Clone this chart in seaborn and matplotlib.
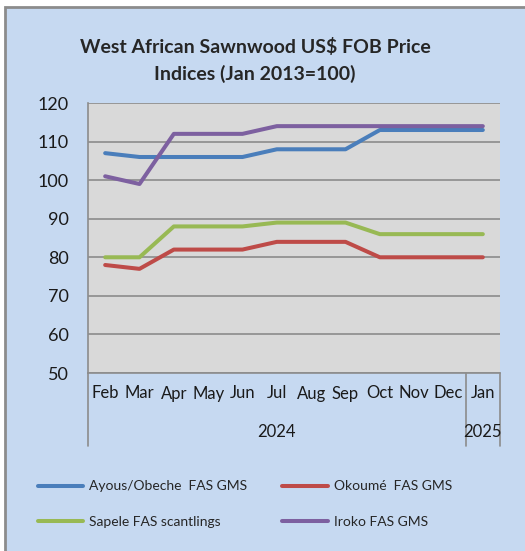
import pandas as pd
import matplotlib.pyplot as plt
import matplotlib.transforms as mtransforms
from matplotlib.patches import Rectangle
from matplotlib.lines import Line2D
import seaborn as sns

# data
months = ['Feb', 'Mar', 'Apr', 'May', 'Jun', 'Jul', 'Aug', 'Sep', 'Oct', 'Nov', 'Dec', 'Jan']
years = ['2024'] * 11 + ['2025']
ayous = [107, 106, 106, 106, 106, 108, 108, 108, 113, 113, 113, 113]
okoume = [78, 77, 82, 82, 82, 84, 84, 84, 80, 80, 80, 80]
sapele = [80, 80, 88, 88, 88, 89, 89, 89, 86, 86, 86, 86]
iroko = [101, 99, 112, 112, 112, 114, 114, 114, 114, 114, 114, 114]

series_names = ['Ayous/Obeche  FAS GMS', 'Okoumé  FAS GMS',
                'Sapele FAS scantlings', 'Iroko FAS GMS']
colors = ['#4A7EBB', '#BE4B48', '#98B954', '#7D60A0']

rows = []
for name, vals in zip(series_names, [ayous, okoume, sapele, iroko]):
    for i, v in enumerate(vals):
        rows.append({'pos': i, 'value': v, 'series': name})
df = pd.DataFrame(rows)

sns.set_style("white")
plt.rcParams['font.family'] = ['Lato', 'DejaVu Sans']

W, H = 525, 551
fig = plt.figure(figsize=(W / 100, H / 100), dpi=100)
fig.patch.set_facecolor('white')

# light blue chart area with grey frame
fig.patches.append(Rectangle((5 / W, -0.01), 1.0, (H - 7) / H + 0.01,
                             transform=fig.transFigure, facecolor='#C6D9F1',
                             edgecolor='#8C8C8C', linewidth=2, zorder=-10))

ax = fig.add_axes([88 / W, (H - 373) / H, 412 / W, 270 / H])
ax.set_facecolor('#D9D9D9')

sns.lineplot(data=df, x='pos', y='value', hue='series', palette=colors,
             linewidth=2.9, ax=ax, legend=False, zorder=3)
for line in ax.lines:
    line.set_solid_capstyle('round')

ax.set_xlim(-0.5, 11.5)
ax.set_ylim(50, 120)
ax.set_yticks(range(50, 121, 10))
ax.set_xticks(range(12))
ax.set_xticklabels(months)
ax.set_xlabel('')
ax.set_ylabel('')
ax.grid(axis='y', color='#8C8C8C', linewidth=1.2)
ax.set_axisbelow(True)
for s in ['top', 'right']:
    ax.spines[s].set_visible(False)
for s in ['left', 'bottom']:
    ax.spines[s].set_color('#8C8C8C')
    ax.spines[s].set_linewidth(1.2)
ax.tick_params(axis='y', length=0, pad=14, labelsize=13, labelcolor='#1A1A1A')
ax.tick_params(axis='x', length=0, pad=9, labelsize=12, labelcolor='#1A1A1A')

# second level of the category axis (years)
trans = mtransforms.blended_transform_factory(ax.transData, ax.transAxes)
for xb in [-0.5, 10.5, 11.5]:
    ax.plot([xb, xb], [0, -0.27], transform=trans, color='#8C8C8C',
            linewidth=1.2, clip_on=False)
ax.text(5, -0.22, '2024', transform=trans, ha='center', va='center',
        fontsize=12, color='#1A1A1A')
ax.text(11, -0.22, '2025', transform=trans, ha='center', va='center',
        fontsize=12, color='#1A1A1A')

fig.text(255 / W, 1 - 47 / H, 'West African Sawnwood US$ FOB Price',
         ha='center', va='center', fontsize=14, fontweight='bold')
fig.text(255 / W, 1 - 74 / H, 'Indices (Jan 2013=100)',
         ha='center', va='center', fontsize=14, fontweight='bold')

# legend filled row by row like the original
order = [0, 2, 1, 3]
handles = [Line2D([], [], color=colors[i], linewidth=2.9, solid_capstyle='round')
           for i in order]
labels = [series_names[i] for i in order]
fig.legend(handles, labels, loc='upper left',
           bbox_to_anchor=(25 / W, 1 - 468 / H), ncol=2, frameon=False,
           fontsize=10, handlelength=3.3, handletextpad=0.4,
           columnspacing=2.55, labelspacing=1.7)

fig.savefig('out.png', dpi=100)
